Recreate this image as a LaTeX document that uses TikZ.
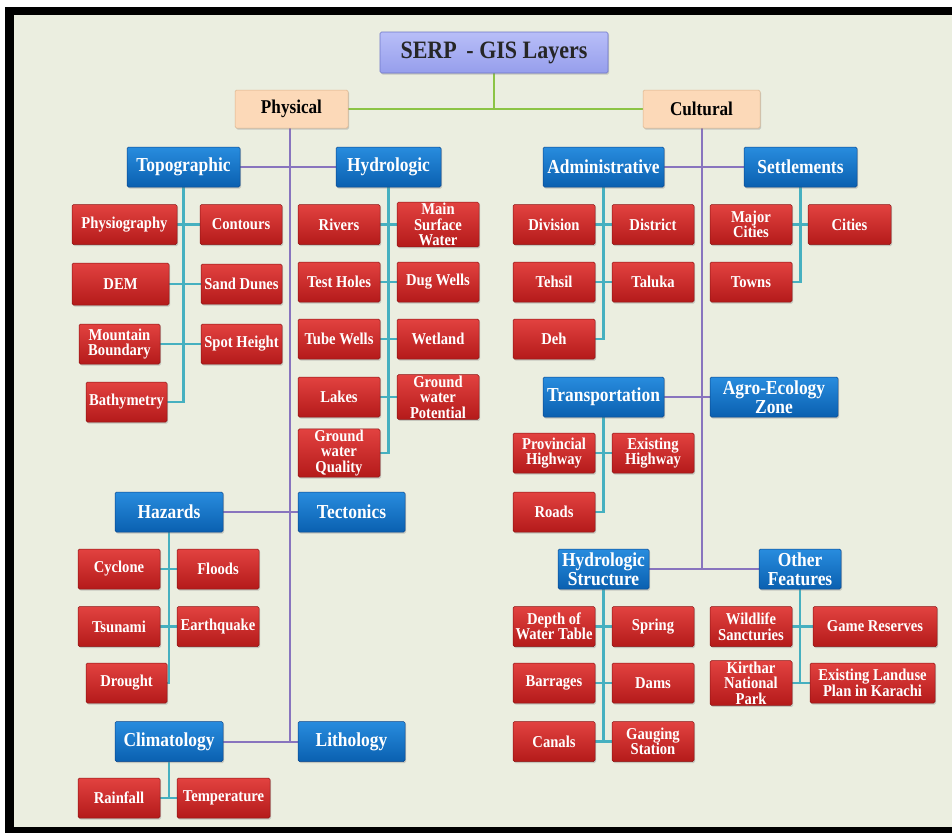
\documentclass[tikz,border=0pt]{standalone}
\usepackage{fontspec}
\setmainfont{Liberation Serif}[FakeStretch=0.88]
\usetikzlibrary{shadows}
\definecolor{bgc}{RGB}{235,238,224}
\definecolor{redT}{RGB}{226,66,64}
\definecolor{redB}{RGB}{180,26,26}
\definecolor{redD}{RGB}{140,20,20}
\definecolor{blueT}{RGB}{40,140,222}
\definecolor{blueB}{RGB}{10,96,176}
\definecolor{blueD}{RGB}{10,70,140}
\definecolor{peach}{RGB}{252,217,184}
\definecolor{peachD}{RGB}{220,180,140}
\definecolor{lavT}{RGB}{184,190,248}
\definecolor{lavB}{RGB}{150,158,236}
\definecolor{lavD}{RGB}{110,118,200}
\definecolor{linP}{RGB}{136,116,190}
\definecolor{linT}{RGB}{70,176,192}
\definecolor{linG}{RGB}{140,196,70}
\pgfdeclarelayer{bglayer}
\pgfdeclarelayer{linelayer}
\pgfsetlayers{bglayer,linelayer,main}
\tikzset{
  basebox/.style={rectangle, rounded corners=1.5pt, align=center, inner sep=1pt,
    drop shadow={opacity=0.35, shadow xshift=1.2pt, shadow yshift=-1.5pt}},
  rb/.style={basebox, draw=redD, line width=0.5pt, top color=redT, bottom color=redB,
    text=white, font=\fontsize{16.6}{15.5}\selectfont\bfseries,
    minimum width=82pt, minimum height=40pt},
  bb/.style={basebox, draw=blueD, line width=0.5pt, top color=blueT, bottom color=blueB,
    text=white, font=\fontsize{19.8}{19.5}\selectfont\bfseries,
    minimum width=107pt, minimum height=40pt},
  pb/.style={basebox, draw=peachD, line width=0.5pt, fill=peach,
    text=black, font=\fontsize{19.5}{19}\selectfont\bfseries,
    minimum height=38pt},
  tb/.style={basebox, draw=lavD, line width=0.6pt, top color=lavT, bottom color=lavB,
    text=black!85, font=\fontsize{25}{26}\selectfont\bfseries,
    minimum width=228pt, minimum height=41pt},
  pl/.style={draw=linP, line width=2pt},
  tl/.style={draw=linT, line width=2.4pt},
  gl/.style={draw=linG, line width=2pt}
}
\begin{document}
\begin{tikzpicture}[x=1pt,y=-1pt]
\useasboundingbox (0,0) rectangle (952,833);
\begin{pgfonlayer}{bglayer}
\fill[white] (0,0) rectangle (952,833);
\fill[black] (5,7) rectangle (952,833);
\fill[bgc] (14,15) rectangle (952,827);
\end{pgfonlayer}

% top
\node[tb] (title) at (494,52.5) {SERP\,\ - GIS Layers};
\node[pb, minimum width=113pt] (phys) at (291.5,109) {Physical};
\node[pb, minimum width=117pt] (cult) at (701.5,109) {Cultural};

% physical: blue
\node[bb, minimum width=113pt] (topo) at (183.5,167) {Topographic};
\node[bb, minimum width=105pt] (hydro) at (388.5,167) {Hydrologic};
\node[bb, minimum width=108pt] (haz) at (169,512) {Hazards};
\node[bb] (tect) at (351.5,512) {Tectonics};
\node[bb, minimum width=108pt] (clim) at (169,741.5) {Climatology};
\node[bb] (litho) at (351.5,741.5) {Lithology};

% topographic children
\node[rb, minimum width=105pt] (physio) at (124.5,224.5) {Physiography};
\node[rb] (contours) at (241,224.5) {Contours};
\node[rb, minimum width=97pt, minimum height=42pt] (dem) at (120.5,284) {DEM};
\node[rb, minimum width=81pt] (sand) at (241.5,284) {Sand Dunes};
\node[rb, minimum width=81pt] (mount) at (119.5,344) {Mountain\\Boundary};
\node[rb, minimum width=81pt] (spot) at (241.5,344) {Spot Height};
\node[rb, minimum width=81pt] (bathy) at (126.5,402) {Bathymetry};

% hydrologic children
\node[rb] (rivers) at (339,224.5) {Rivers};
\node[rb] (msw) at (438,224.5) {Main\\Surface\\Water};
\node[rb] (test) at (339,282) {Test Holes};
\node[rb] (dug) at (438,282) {Dug Wells};
\node[rb] (tube) at (339,339) {Tube Wells};
\node[rb] (wet) at (438,339) {Wetland};
\node[rb] (lakes) at (339,397) {Lakes};
\node[rb] (gwp) at (438,397) {Ground\\water\\Potential};
\node[rb] (gwq) at (339,453) {Ground\\water\\Quality};

% hazards children
\node[rb] (cyc) at (119,569) {Cyclone};
\node[rb] (flood) at (218,569) {Floods};
\node[rb] (tsu) at (119,626.5) {Tsunami};
\node[rb] (earth) at (218,626.5) {Earthquake};
\node[rb, minimum width=81pt] (drought) at (126.5,683) {Drought};

% climatology children
\node[rb] (rain) at (119,798) {Rainfall};
\node[rb, minimum width=93pt] (temp) at (223.5,798) {Temperature};

% cultural: blue
\node[bb, minimum width=121pt] (admin) at (603.5,167) {Administrative};
\node[bb, minimum width=113pt] (settle) at (800.5,167) {Settlements};
\node[bb, minimum width=121pt] (trans) at (603.5,397) {Transportation};
\node[bb, minimum width=128pt] (agro) at (774,397) {Agro-Ecology\\Zone};
\node[bb, minimum width=91pt] (hstruct) at (603.5,569) {Hydrologic\\Structure};
\node[bb, minimum width=82pt] (other) at (800,569) {Other\\Features};

% administrative children
\node[rb] (div) at (554,224.5) {Division};
\node[rb] (dist) at (653,224.5) {District};
\node[rb] (tehsil) at (554,282) {Tehsil};
\node[rb] (taluka) at (653,282) {Taluka};
\node[rb] (deh) at (554,339) {Deh};

% settlements children
\node[rb] (major) at (751,224.5) {Major\\Cities};
\node[rb, minimum width=83pt] (cities) at (849.5,224.5) {Cities};
\node[rb] (towns) at (751,282) {Towns};

% transportation children
\node[rb] (prov) at (554,453) {Provincial\\Highway};
\node[rb] (exhw) at (653,453) {Existing\\Highway};
\node[rb] (roads) at (554,512) {Roads};

% hydrologic structure children
\node[rb] (depth) at (554,626.5) {Depth of\\Water Table};
\node[rb] (spring) at (653,626.5) {Spring};
\node[rb] (barr) at (554,683) {Barrages};
\node[rb] (dams) at (653,683) {Dams};
\node[rb] (canals) at (554,741.5) {Canals};
\node[rb] (gauge) at (653,741.5) {Gauging\\Station};

% other features children
\node[rb] (wild) at (751,626.5) {Wildlife\\Sancturies};
\node[rb, minimum width=124pt] (game) at (875,626.5) {Game Reserves};
\node[rb] (kir) at (751,683) {Kirthar\\National\\Park};
\node[rb, minimum width=125pt] (landuse) at (872.5,683) {Existing Landuse\\Plan in Karachi};

% ---- connectors (behind boxes) ----
\begin{pgfonlayer}{linelayer}
% green
\draw[gl] (title.south) -- (title.south |- phys.east);
\draw[gl] (phys.east) -- (cult.west);
% purple
\draw[pl] ([xshift=-2pt]phys.south) -- ([xshift=-2pt]phys.south |- clim.east);
\draw[pl] (topo.east) -- (hydro.west);
\draw[pl] (haz.east) -- (tect.west);
\draw[pl] (clim.east) -- (litho.west);
\draw[pl] (cult.south) -- (cult.south |- hstruct.east);
\draw[pl] (admin.east) -- (settle.west);
\draw[pl] (trans.east) -- (agro.west);
\draw[pl] (hstruct.east) -- (other.west);
% teal
\draw[tl] (topo.south) -- (topo.south |- bathy.east) -- (bathy.east);
\draw[tl] (physio.east) -- (contours.west);
\draw[tl] (dem.east) -- (sand.west);
\draw[tl] (mount.east) -- (spot.west);
\draw[tl] (hydro.south) -- (hydro.south |- gwq.east) -- (gwq.east);
\draw[tl] (rivers.east) -- (msw.west);
\draw[tl] (test.east) -- (dug.west);
\draw[tl] (tube.east) -- (wet.west);
\draw[tl] (lakes.east) -- (gwp.west);
\draw[tl] (haz.south) -- (haz.south |- drought.east) -- (drought.east);
\draw[tl] (cyc.east) -- (flood.west);
\draw[tl] (tsu.east) -- (earth.west);
\draw[tl] (clim.south) -- (clim.south |- rain.east);
\draw[tl] (rain.east) -- (temp.west);
\draw[tl] (admin.south) -- (admin.south |- deh.east) -- (deh.east);
\draw[tl] (div.east) -- (dist.west);
\draw[tl] (tehsil.east) -- (taluka.west);
\draw[tl] (settle.south) -- (settle.south |- towns.east) -- (towns.east);
\draw[tl] (major.east) -- (cities.west);
\draw[tl] (trans.south) -- (trans.south |- roads.east) -- (roads.east);
\draw[tl] (prov.east) -- (exhw.west);
\draw[tl] (hstruct.south) -- (hstruct.south |- canals.east);
\draw[tl] (depth.east) -- (spring.west);
\draw[tl] (barr.east) -- (dams.west);
\draw[tl] (canals.east) -- (gauge.west);
\draw[tl] (other.south) -- (other.south |- kir.east);
\draw[tl] (wild.east) -- (game.west);
\draw[tl] (kir.east) -- (landuse.west);
\end{pgfonlayer}
\end{tikzpicture}
\end{document}
